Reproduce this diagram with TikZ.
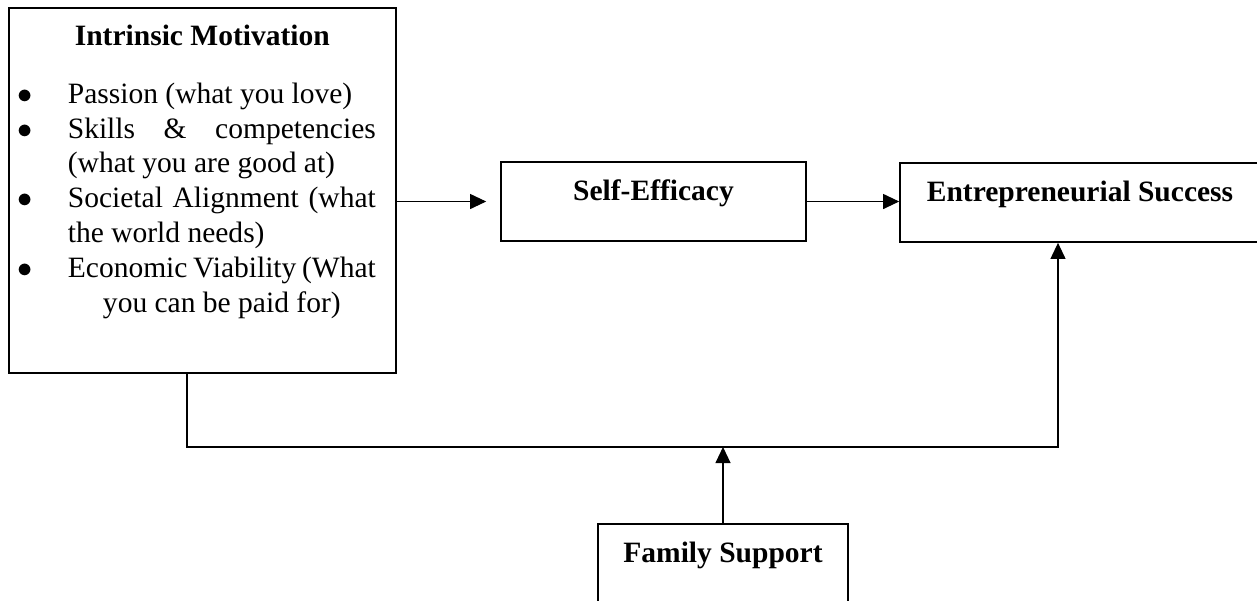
\documentclass[tikz,border=0pt]{standalone}
\usepackage{fontspec}
\setmainfont{Liberation Serif}
\usetikzlibrary{arrows.meta}

\begin{document}
\begin{tikzpicture}[
      x=0.02cm, y=-0.02cm,
      font=\fontsize{16.8}{19.8}\selectfont,
      b/.style={draw, line width=1pt, inner sep=0pt, anchor=base,
                text height=0.76cm, text depth=0.82cm,
                font=\fontsize{16.8}{19.8}\selectfont\bfseries},
      a/.style={-{Triangle[length=0.32cm,width=0.3cm]}, line width=0.6pt},
    ]
    \useasboundingbox (0,0) rectangle (1257,600);
    \clip (0,0) rectangle (1257,600);
    % motivation box
    \node[draw, line width=1pt, inner sep=0pt, anchor=north west] (im) at (8,7) {%
      \begin{minipage}[t][7.3cm][t]{7.74cm}
        \vspace*{0.27cm}
        {\centering\bfseries\strut Intrinsic Motivation\par}
        \vspace{13pt}
        \begin{list}{$\bullet$}{\setlength{\leftmargin}{1.18cm}%
            \setlength{\labelsep}{0.7cm}\setlength{\labelwidth}{0.48cm}%
            \setlength{\rightmargin}{0.4cm}\setlength{\topsep}{0pt}%
            \setlength{\partopsep}{0pt}\setlength{\itemsep}{0pt}%
            \setlength{\parsep}{0pt}}
          \item Passion (what you love)
          \item Skills \& competencies\linebreak (what you are good at)
          \item Societal Alignment (what\linebreak the world needs)
          \item Economic Viability (What\linebreak
                \makebox[\linewidth][c]{you can be paid for)}
        \end{list}
      \end{minipage}};
    % mediator and outcome
    \node[b, minimum width=6.1cm] (se) at (653.5,200) {Self-Efficacy};
    \node[b, minimum width=7.2cm] (es) at (1080,201) {Entrepreneurial Success};
    % moderator
    \node[b, minimum width=5cm]   (fs) at (723,562) {Family Support};

    \coordinate (jl) at (187,447);
    \coordinate (jr) at (1058,447);

    \draw[a, shorten >=0.28cm] (se.west -| im.east) -- (se.west);
    \draw[a] (se.east) -- (se.east -| es.west);
    \draw[a] (jl |- im.south) -- (jl) -- (jr) -- (jr |- es.south);
    \draw[a] (fs.north) -- (fs.north |- jl);
  \end{tikzpicture}
\end{document}
